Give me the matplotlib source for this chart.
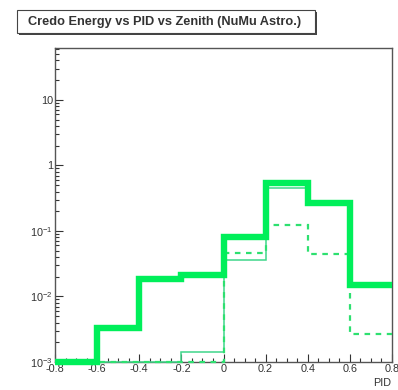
import numpy as np
import matplotlib
matplotlib.use("Agg")
import matplotlib.pyplot as plt
from matplotlib.patches import Rectangle
from matplotlib.ticker import FixedLocator, LogLocator, NullFormatter, MultipleLocator

plt.rcParams['font.family'] = ['Liberation Sans', 'DejaVu Sans']
plt.rcParams['mathtext.fontset'] = 'custom'
plt.rcParams['mathtext.rm'] = 'Liberation Sans'
plt.rcParams['mathtext.it'] = 'Liberation Sans'

# Data
bin_edges = [-0.8, -0.6, -0.4, -0.2, 0.0, 0.2, 0.4, 0.6, 0.8]
total = [0.0, 3.3e-3, 0.0186, 0.021, 0.081, 0.54, 0.27, 0.015]
solid = [0.0, 0.0, 0.0, 1.4e-3, 0.036, 0.46, 0.26, 0.015]
dashed = [0.0, 0.0, 0.0, 0.0, 0.046, 0.123, 0.045, 0.0027]
x_ticks = [-0.8, -0.6, -0.4, -0.2, 0.0, 0.2, 0.4, 0.6, 0.8]
x_tick_labels = ["-0.8", "-0.6", "-0.4", "-0.2", "0", "0.2", "0.4", "0.6", "0.8"]
y_ticks = [1e-3, 1e-2, 1e-1, 1, 10]
y_tick_labels = [r"$10^{-3}$", r"$10^{-2}$", r"$10^{-1}$", "1", "10"]
title = "Credo Energy vs PID vs Zenith (NuMu Astro.)"
x_label = "PID"

W, H = 398, 390
fig = plt.figure(figsize=(W / 100, H / 100), dpi=100)
ax = fig.add_axes([55 / W, 1 - 362 / H, (392 - 55) / W, (362 - 48) / H])

ymin, ymax = 1e-3, 62
ax.set_yscale('log')
ax.set_xlim(-0.8, 0.8)
ax.set_ylim(ymin, ymax)

def floor(v):
    return np.maximum(np.asarray(v, dtype=float), ymin)

ax.stairs(floor(solid), bin_edges, baseline=None, color='#3fd68a', lw=1.1, zorder=3, clip_on=False)
ax.stairs(floor(dashed), bin_edges, baseline=None, color='#2ee070', lw=1.6,
          linestyle=(0, (2.5, 2.5)), zorder=3, clip_on=False)
ax.stairs(floor(total), bin_edges, baseline=None, color='#00ef5a', lw=4.6, zorder=4, clip_on=False)

ax.xaxis.set_major_locator(FixedLocator(x_ticks))
ax.set_xticklabels(x_tick_labels)
ax.xaxis.set_minor_locator(MultipleLocator(0.05))
ax.yaxis.set_major_locator(FixedLocator(y_ticks))
ax.set_yticklabels(y_tick_labels)
ax.yaxis.set_minor_locator(LogLocator(base=10, subs=np.arange(2, 10)))
ax.yaxis.set_minor_formatter(NullFormatter())

ax.tick_params(axis='both', which='both', direction='in', top=False, right=False,
               colors='#333333', labelsize=7.8, width=0.8)
ax.tick_params(axis='x', which='major', length=6, pad=1.5)
ax.tick_params(axis='y', which='major', length=6, pad=1.5)
ax.tick_params(axis='both', which='minor', length=3)
for s in ax.spines.values():
    s.set_color('#555555')
    s.set_linewidth(1.0)

fig.text(391 / W, 1 - 383 / H, x_label, ha='right', va='center', fontsize=7.8, color='#333333')

# Title box with shadow
shadow = Rectangle((19 / W, 1 - 35 / H), (315 - 17) / W, (33 - 10) / H,
                   transform=fig.transFigure, facecolor='#444444', edgecolor='none', zorder=1)
box = Rectangle((17 / W, 1 - 33 / H), (315 - 17) / W, (33 - 10) / H,
                transform=fig.transFigure, facecolor='white', edgecolor='#444444', lw=0.8, zorder=2)
fig.patches.extend([shadow, box])
fig.text(28 / W, 1 - 21.5 / H, title, ha='left', va='center', fontsize=9.2,
         fontweight='bold', color='#333333', zorder=3)

fig.savefig('out.png', dpi=100)
